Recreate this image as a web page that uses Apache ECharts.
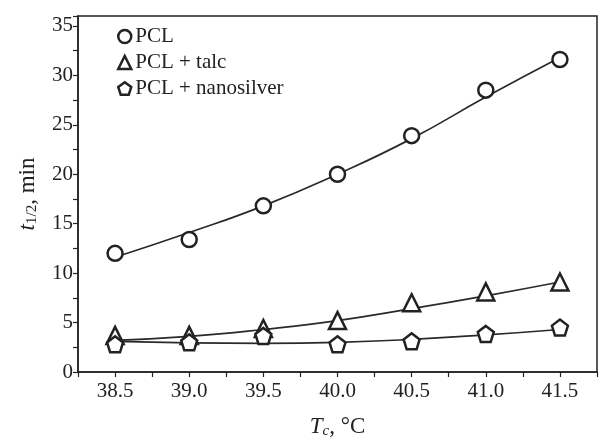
<!DOCTYPE html>
<html>
<head>
<meta charset="utf-8">
<script src="https://cdn.jsdelivr.net/npm/echarts@6/dist/echarts.min.js"></script>
<style>html,body{margin:0;padding:0;background:#fff}#c{width:600px;height:437px}</style>
</head>
<body>
<div id="c"></div>
<script>
var temps = [38.5, 39.0, 39.5, 40.0, 40.5, 41.0, 41.5];
var pcl = [12.0, 13.4, 16.8, 20.0, 23.9, 28.5, 31.6];
var talc = [3.7, 3.7, 4.4, 5.2, 7.0, 8.1, 9.1];
var silver = [2.8, 3.0, 3.65, 2.8, 3.1, 3.85, 4.5];
var pclFit = [11.6, 14.1, 16.8, 20.0, 23.6, 27.8, 31.8];
var talcFit = [3.2, 3.6, 4.3, 5.2, 6.4, 7.7, 9.1];
var silverFit = [3.1, 2.95, 2.9, 3.0, 3.3, 3.75, 4.3];
var names = ['PCL', 'PCL + talc', 'PCL + nanosilver'];

function pairs(xs, ys){ return xs.map(function(x,i){ return [x, ys[i]]; }); }
var ink = '#222';
var font = 'Liberation Serif';
var pent = 'path://M0,-10 L9.51,-3.09 L5.88,8.09 L-5.88,8.09 L-9.51,-3.09 Z';
var symbols = ['circle', 'triangle', pent];
var sizes = [15, 17, 16];

var chart = echarts.init(document.getElementById('c'), null, {renderer: 'canvas'});
var series = [];
[pclFit, talcFit, silverFit].forEach(function(f){
  series.push({type:'line', data: pairs(temps, f), smooth: true, showSymbol: false, silent: true,
    lineStyle: {color: '#2a2a2a', width: 1.7}, z: 2});
});
[pcl, talc, silver].forEach(function(d, i){
  series.push({type:'scatter', name: names[i], data: pairs(temps, d), symbol: symbols[i], symbolSize: sizes[i],
    itemStyle: {color: '#fff', borderColor: ink, borderWidth: 2.5, opacity: 1}, z: 5});
});

chart.setOption({
  animation: false,
  backgroundColor: '#fff',
  grid: {left: 78, right: 3, top: 16, bottom: 65, containLabel: false, outerBoundsMode: 'none',
    show: true, borderColor: ink, borderWidth: 1.5, backgroundColor: 'transparent'},
  legend: {
    data: names, orient: 'vertical', left: 112, top: 21, itemGap: 5, itemWidth: 13, itemHeight: 13,
    textStyle: {fontFamily: font, fontSize: 21, color: ink, padding: [0,0,0,-1]},
    itemStyle: {color: '#fff', borderColor: ink, borderWidth: 2.5}
  },
  xAxis: {
    type: 'value', min: 38.25, max: 41.75, interval: 0.25,
    splitLine: {show: false},
    axisLine: {lineStyle: {color: ink, width: 1.5}},
    axisTick: {length: 5, lineStyle: {color: ink, width: 1.2}},
    axisLabel: {fontFamily: font, fontSize: 21, color: ink, margin: 9,
      formatter: function(v){ return Math.abs(v*2 - Math.round(v*2)) < 1e-6 ? v.toFixed(1) : ''; }},
    name: '{i|T}{s|c}{n|, °C}', nameLocation: 'middle', nameGap: 42,
    nameTextStyle: {rich: {
      i: {fontFamily: font, fontStyle: 'italic', fontSize: 23, color: ink},
      s: {fontFamily: font, fontStyle: 'italic', fontSize: 15, color: ink, verticalAlign: 'bottom', padding: [10,0,0,0]},
      n: {fontFamily: font, fontSize: 23, color: ink}
    }}
  },
  yAxis: {
    type: 'value', min: 0, max: 36, interval: 2.5,
    splitLine: {show: false},
    axisLine: {lineStyle: {color: ink, width: 1.5}},
    axisTick: {length: 5, lineStyle: {color: ink, width: 1.2}},
    axisLabel: {fontFamily: font, fontSize: 21, color: ink, margin: 5,
      formatter: function(v){ return (v % 5 === 0 && v <= 35) ? String(v) : ''; }},
    name: '{i|t}{s|1/2}{n|, min}', nameLocation: 'middle', nameGap: 38, nameRotate: 90,
    nameTextStyle: {rich: {
      i: {fontFamily: font, fontStyle: 'italic', fontSize: 23, color: ink},
      s: {fontFamily: font, fontSize: 15, color: ink, verticalAlign: 'bottom', padding: [10,0,0,0]},
      n: {fontFamily: font, fontSize: 23, color: ink}
    }}
  },
  series: series
});
</script>
</body>
</html>
